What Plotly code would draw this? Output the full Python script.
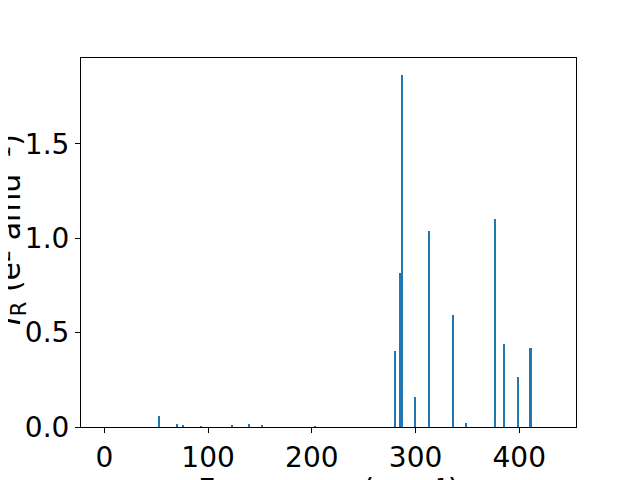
import plotly.graph_objects as go

# Frequencies (cm^-1) and IR intensities
freqs = [0.0, 52.7, 70.1, 75.9, 93.2, 123.1, 139.8, 152.0, 202.8,
         280.2, 285.0, 286.9, 299.4, 312.9, 335.8, 348.6,
         376.6, 385.3, 398.5, 410.4, 411.6, 432.0]
intens = [0.0, 0.058, 0.016, 0.011, 0.005, 0.010, 0.016, 0.010, 0.005,
          0.403, 0.818, 1.865, 0.159, 1.039, 0.594, 0.020,
          1.100, 0.440, 0.265, 0.419, 0.419, 0.0]

x_ticks = [0, 100, 200, 300, 400]
y_ticks = [0.0, 0.5, 1.0, 1.5]

FONT = "DejaVu Sans"
TICK_SIZE = 28
LABEL_SIZE = 30

fig = go.Figure(go.Bar(
    x=freqs, y=intens, width=[2.0] * len(freqs),
    marker=dict(color="#1f77b4", line=dict(width=0)),
))

fig.update_layout(
    width=640, height=480,
    margin=dict(l=73, r=72, t=50, b=61),
    paper_bgcolor="white", plot_bgcolor="white",
    showlegend=False,
    font=dict(family=FONT, size=TICK_SIZE, color="black"),
    bargap=0,
    xaxis=dict(range=[-22.5, 454.7], tickmode="array", tickvals=x_ticks,
               ticktext=[str(v) for v in x_ticks],
               ticks="outside", ticklen=5, tickwidth=1, tickcolor="black",
               showline=True, linecolor="black", linewidth=1, mirror=True,
               showgrid=False, zeroline=False,
               tickfont=dict(family=FONT, size=TICK_SIZE)),
    yaxis=dict(range=[0, 1.955], tickmode="array", tickvals=y_ticks,
               ticktext=["%.1f" % v for v in y_ticks],
               ticks="outside", ticklen=5, tickwidth=1, tickcolor="black",
               showline=True, linecolor="black", linewidth=1, mirror=True,
               showgrid=False, zeroline=False,
               tickfont=dict(family=FONT, size=TICK_SIZE)),
    annotations=[
        dict(text="Frequency (cm⁻¹)", xref="paper", yref="paper",
             x=0.5, y=-0.1165, xanchor="center", yanchor="top", showarrow=False,
             font=dict(family=FONT, size=LABEL_SIZE)),
        dict(text="<i>I</i><sub>R</sub> (e² amu⁻¹)",
             xref="paper", yref="paper", x=-0.097, y=0.535, xanchor="right",
             yanchor="middle", textangle=-90, showarrow=False,
             font=dict(family=FONT, size=LABEL_SIZE)),
    ],
)

fig.write_html("out.html")
